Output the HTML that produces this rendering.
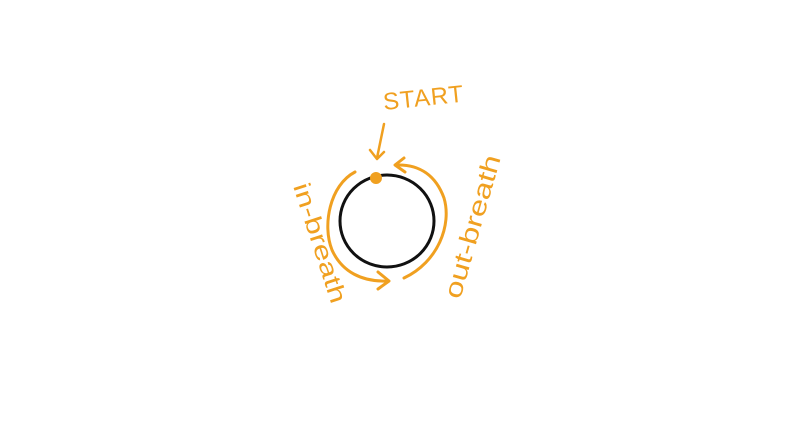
<!DOCTYPE html>
<html><head><meta charset="utf-8"><style>
html,body{margin:0;padding:0;background:#fff;width:800px;height:427px;overflow:hidden}
svg{display:block}
text{font-family:"Liberation Sans",sans-serif;fill:#F0A020}
</style></head><body>
<svg width="800" height="427" viewBox="0 0 800 427">
<ellipse cx="387" cy="221" rx="47" ry="46" fill="none" stroke="#111" stroke-width="3"/>
<circle cx="376" cy="178" r="6" fill="#F0A020"/>
<path d="M355 172 C330 185 322 225 332 250 C342 272 362 282 388 281" fill="none" stroke="#F0A020" stroke-width="3" stroke-linecap="round"/>
<path d="M378 272 L389 281 L378 289" fill="none" stroke="#F0A020" stroke-width="3" stroke-linecap="round" stroke-linejoin="round"/>
<path d="M404 278 C438 262 452 225 444 198 C436 176 420 164 396 165" fill="none" stroke="#F0A020" stroke-width="3" stroke-linecap="round"/>
<path d="M404 158 L395 165 L405 172" fill="none" stroke="#F0A020" stroke-width="3" stroke-linecap="round" stroke-linejoin="round"/>
<path d="M384 124 L377 158 M370 150 L377 159 L384 152" fill="none" stroke="#F0A020" stroke-width="2.5" stroke-linecap="round" stroke-linejoin="round"/>
<text x="384" y="110" font-size="24" transform="rotate(-6 384 110)" letter-spacing="1">START</text>
<text x="0" y="0" font-size="24" textLength="125" lengthAdjust="spacingAndGlyphs" transform="translate(293 186) rotate(72)">in-breath</text>
<text x="0" y="0" font-size="25" textLength="148" lengthAdjust="spacingAndGlyphs" transform="translate(460 300) rotate(-74)">out-breath</text>
</svg>
</body></html>
